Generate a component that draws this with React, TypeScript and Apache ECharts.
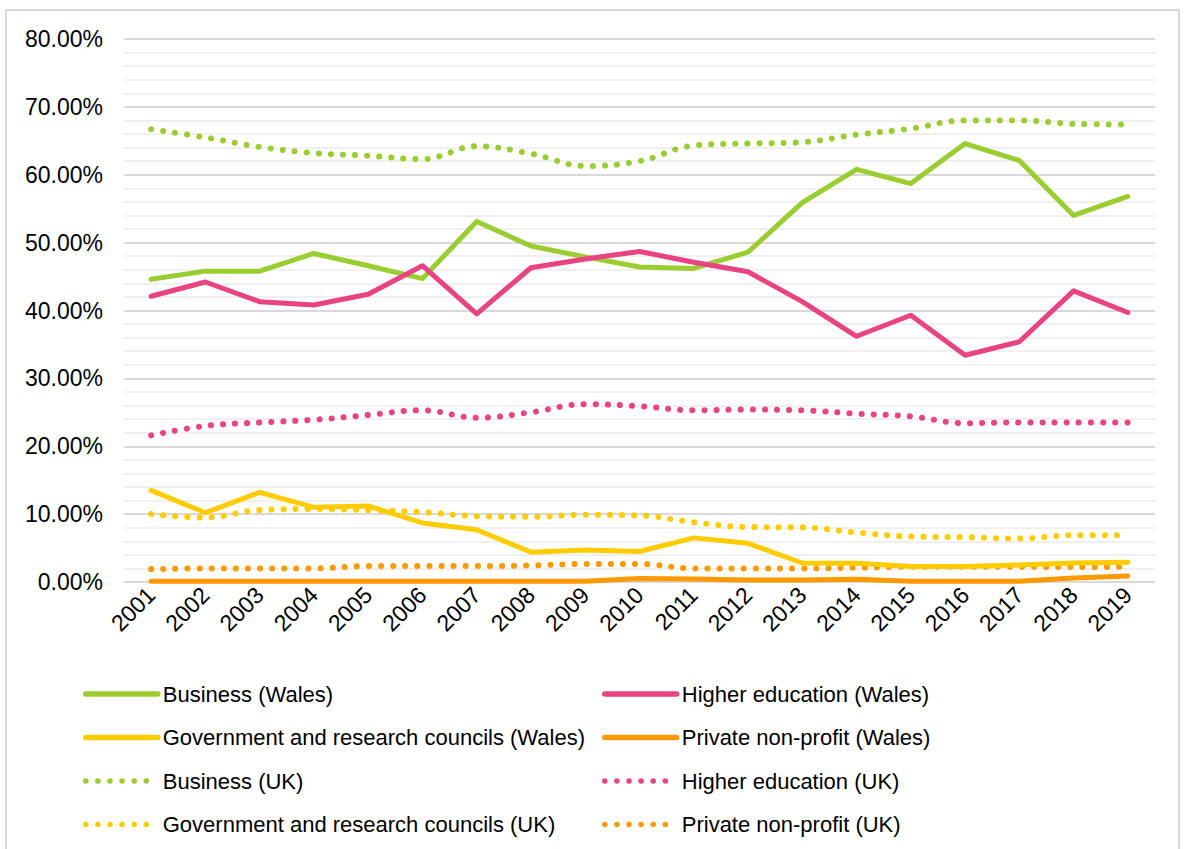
import React, { useEffect, useRef } from "react";
import * as echarts from "echarts";

const years = ["2001","2002","2003","2004","2005","2006","2007","2008","2009","2010","2011","2012","2013","2014","2015","2016","2017","2018","2019"];

const businessWales = [44.6, 45.8, 45.8, 48.4, 46.6, 44.7, 53.1, 49.5, 47.9, 46.4, 46.2, 48.6, 55.9, 60.8, 58.7, 64.6, 62.1, 54.0, 56.8];
const higherEdWales = [42.1, 44.2, 41.3, 40.8, 42.4, 46.6, 39.5, 46.3, 47.6, 48.7, 47.1, 45.7, 41.3, 36.2, 39.3, 33.4, 35.4, 42.9, 39.7];
const govWales = [13.5, 10.2, 13.2, 11.0, 11.2, 8.7, 7.7, 4.4, 4.7, 4.5, 6.5, 5.7, 2.8, 2.75, 2.3, 2.3, 2.5, 2.8, 2.9];
const privateWales = [0.1, 0.1, 0.1, 0.1, 0.1, 0.1, 0.1, 0.1, 0.1, 0.5, 0.45, 0.3, 0.3, 0.4, 0.1, 0.1, 0.1, 0.6, 0.9];
const businessUK = [66.7, 65.5, 64.1, 63.2, 62.8, 62.3, 64.2, 63.1, 61.3, 62.0, 64.3, 64.6, 64.8, 65.9, 66.8, 68.0, 68.0, 67.5, 67.4];
const higherEdUK = [21.6, 23.0, 23.5, 23.9, 24.6, 25.3, 24.2, 25.0, 26.2, 25.9, 25.3, 25.4, 25.3, 24.8, 24.4, 23.4, 23.5, 23.5, 23.5];
const govUK = [10.0, 9.5, 10.6, 10.75, 10.6, 10.3, 9.7, 9.6, 9.9, 9.8, 8.8, 8.1, 8.05, 7.3, 6.7, 6.6, 6.4, 6.9, 6.9];
const privateUK = [1.9, 2.0, 2.0, 2.0, 2.35, 2.35, 2.35, 2.45, 2.65, 2.65, 2.0, 2.0, 2.0, 2.1, 2.25, 2.25, 2.25, 2.2, 2.25];

const yTicks = [0, 10, 20, 30, 40, 50, 60, 70, 80];

const GREEN = "#9acd32";
const PINK = "#e84482";
const YELLOW = "#ffcc00";
const ORANGE = "#ff9900";

const FONT = "Liberation Sans";

export default function App() {
  const ref = useRef<HTMLDivElement>(null);
  useEffect(() => {
    if (!ref.current) return;
    const chart = echarts.init(ref.current, undefined, { renderer: "svg" });
    const solid = (name: string, data: number[], color: string) => ({
      name,
      type: "line",
      data,
      symbol: "none",
      showSymbol: false,
      lineStyle: { color, width: 5, cap: "round", join: "round" },
      itemStyle: { color },
      z: 3,
    });
    const dotted = (name: string, data: number[], color: string) => ({
      name,
      type: "line",
      data,
      symbol: "none",
      showSymbol: false,
      smooth: 0.4,
      lineStyle: { color, width: 6, type: [0.1, 12], cap: "round" },
      itemStyle: { color },
      z: 2,
    });
    const legendText = { fontFamily: FONT, fontSize: 22, color: "#000", lineHeight: 24 };
    const legendBase = {
      orient: "vertical",
      top: 682,
      padding: 0,
      itemWidth: 72,
      itemHeight: 14,
      itemGap: 19.5,
      textStyle: legendText,
      itemStyle: { opacity: 0 },
      lineStyle: { width: 5.5, cap: "round" },
    };
    chart.setOption({
      animation: false,
      backgroundColor: "#fff",
      graphic: [
        {
          type: "rect",
          shape: { x: 6, y: 10, width: 1173, height: 850 },
          style: { fill: "none", stroke: "#d9d9d9", lineWidth: 2 },
          z: -1,
        },
      ],
      grid: { left: 124, right: 29, top: 39, bottom: 267 },
      xAxis: {
        type: "category",
        data: years,
        boundaryGap: true,
        axisLine: { show: false },
        axisTick: { show: false },
        axisLabel: {
          rotate: 45,
          interval: 0,
          fontFamily: FONT,
          fontSize: 23,
          color: "#000",
          margin: 9,
        },
        splitLine: { show: false },
      },
      yAxis: {
        type: "value",
        min: yTicks[0],
        max: yTicks[yTicks.length - 1],
        interval: 10,
        axisLine: { show: false },
        axisTick: { show: false },
        axisLabel: {
          fontFamily: FONT,
          fontSize: 23,
          color: "#000",
          margin: 21,
          formatter: (v: number) => v.toFixed(2) + "%",
        },
        splitLine: { show: true, lineStyle: { color: "#d9d9d9", width: 2 } },
        minorSplitLine: { show: true, lineStyle: { color: "#f0f0f0", width: 2 } },
        minorTick: { show: false, splitNumber: 5 },
      },
      legend: [
        {
          ...legendBase,
          left: 83,
          data: [
            "Business (Wales)",
            "Government and research councils (Wales)",
            "Business (UK)",
            "Government and research councils (UK)",
          ],
        },
        {
          ...legendBase,
          left: 602,
          data: [
            "Higher education (Wales)",
            "Private non-profit (Wales)",
            "Higher education (UK)",
            "Private non-profit (UK)",
          ],
        },
      ],
      series: [
        dotted("Business (UK)", businessUK, GREEN),
        dotted("Higher education (UK)", higherEdUK, PINK),
        dotted("Government and research councils (UK)", govUK, YELLOW),
        dotted("Private non-profit (UK)", privateUK, ORANGE),
        solid("Business (Wales)", businessWales, GREEN),
        solid("Higher education (Wales)", higherEdWales, PINK),
        solid("Government and research councils (Wales)", govWales, YELLOW),
        solid("Private non-profit (Wales)", privateWales, ORANGE),
      ],
    });
    return () => chart.dispose();
  }, []);
  return (
    <div
      ref={ref}
      style={{ position: "fixed", left: 0, top: 0, width: 1184, height: 849 }}
    />
  );
}
